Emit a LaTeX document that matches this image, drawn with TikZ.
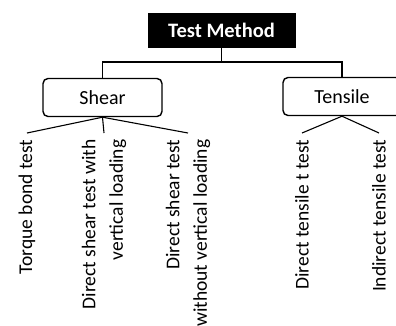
\documentclass[tikz,border=0pt]{standalone}
\usepackage{fontspec}
\setmainfont{Carlito}
\begin{document}
\begin{tikzpicture}[x=1pt,y=-1pt,
  rootbox/.style={draw=black,fill=black,text=white,font=\fontsize{20.5}{24}\selectfont\bfseries,minimum width=147pt,minimum height=34pt,inner sep=0pt},
  catbox/.style={draw=black,line width=1.4pt,rounded corners=5pt,fill=white,font=\fontsize{20}{24}\selectfont,minimum height=38pt,inner sep=0pt},
  leaf/.style={rotate=90,anchor=east,align=right,inner xsep=6.5pt,inner ysep=0pt,font=\fontsize{19.5}{27.5}\selectfont},
  conn/.style={draw=black,line width=1.1pt}]
\useasboundingbox (0,0) rectangle (396,325);
\node[rootbox] (tm) at (221.5,30) {Test Method};
\node[catbox,minimum width=119pt] (shear) at (102.5,97.5) {Shear};
\node[catbox,minimum width=118pt] (tens) at (342,96.5) {Tensile};
\node[leaf] (l1) at (27,133) {Torque bond test};
\node[leaf] (l2) at (104,133) {Direct shear test with\\vertical loading};
\node[leaf] (l3) at (188,133) {Direct shear test\\without vertical loading};
\node[leaf] (l4) at (302,133) {Direct tensile t test};
\node[leaf] (l5) at (379,133) {Indirect tensile test};
\coordinate (jn) at (221.5,62);
\draw[conn] (tm.south) -- (jn);
\draw[conn] (jn) -| (shear.north);
\draw[conn] (jn) -| (tens.north);
\draw[conn] (shear.south) -- (l1.east);
\draw[conn] (shear.south) -- (l2.east);
\draw[conn] (shear.south) -- (l3.east);
\draw[conn] (tens.south) -- (l4.east);
\draw[conn] (tens.south) -- (l5.east);
\end{tikzpicture}
\end{document}
